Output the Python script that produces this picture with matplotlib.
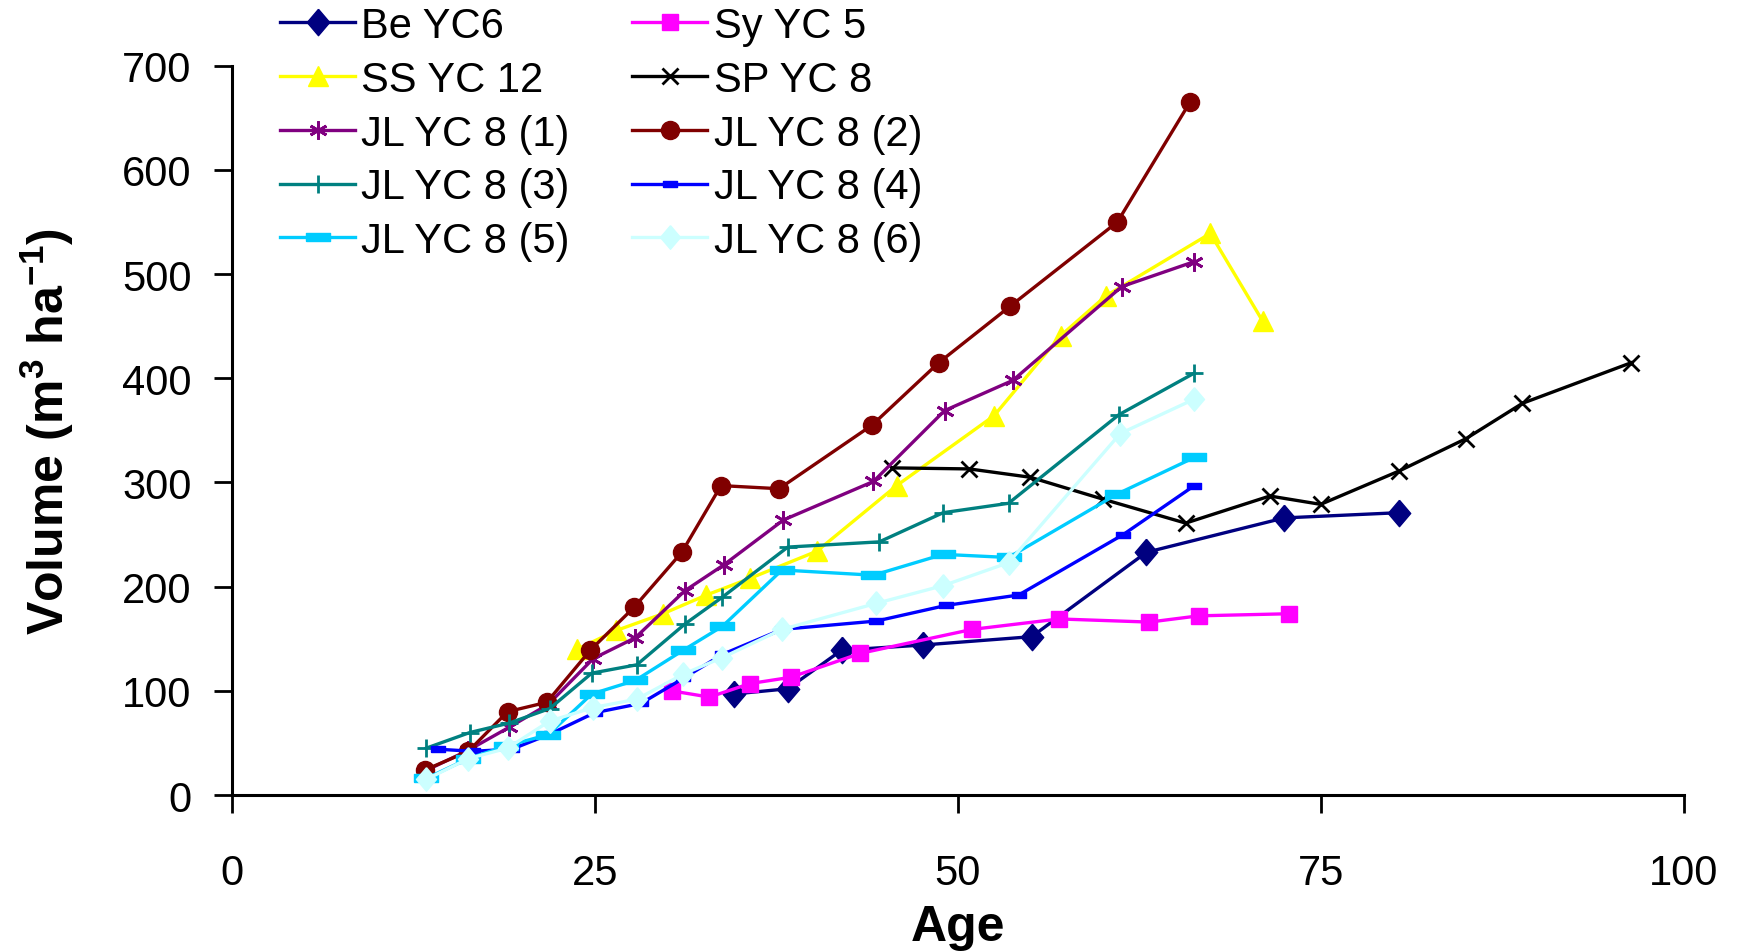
import matplotlib
matplotlib.use("Agg")
import matplotlib.pyplot as plt

plt.rcParams['font.family'] = ['Liberation Sans', 'DejaVu Sans']
plt.rcParams['mathtext.fontset'] = 'custom'
plt.rcParams['mathtext.rm'] = 'Liberation Sans'
plt.rcParams['mathtext.bf'] = 'Liberation Sans:bold'

# Veriler
be_age = [34.6, 38.3, 42.0, 47.6, 55.1, 63.0, 72.5, 80.4]
be_vol = [97, 102, 139, 144, 152, 233, 266, 271]

sy_age = [30.3, 32.9, 35.7, 38.5, 43.3, 51.0, 57.0, 63.2, 66.6, 72.8]
sy_vol = [100, 94, 107, 113, 136, 159, 169, 166, 172, 174]

ss_age = [23.8, 26.5, 29.7, 32.7, 35.7, 40.3, 45.8, 52.5, 57.1, 60.2, 67.4, 71.0]
ss_vol = [140, 158, 174, 192, 208, 234, 297, 364, 441, 479, 539, 455]

sp_age = [45.5, 50.8, 55.0, 60.0, 65.7, 71.5, 75.0, 80.4, 85.0, 88.9, 96.4]
sp_vol = [314, 313, 305, 284, 261, 287, 279, 311, 342, 376, 415]

jl1_age = [13.3, 16.3, 19.1, 21.8, 24.9, 27.8, 31.2, 33.9, 38.0, 44.2, 49.1, 53.8, 61.3, 66.3]
jl1_vol = [23, 43, 65, 87, 131, 151, 196, 221, 264, 301, 369, 398, 488, 512]

jl2_age = [13.3, 16.3, 19.0, 21.7, 24.7, 27.7, 31.0, 33.7, 37.7, 44.1, 48.7, 53.6, 61.0, 66.0]
jl2_vol = [24, 42, 80, 89, 139, 180, 233, 297, 294, 355, 415, 469, 550, 665]

jl3_age = [13.4, 16.4, 19.1, 21.9, 24.8, 27.9, 31.2, 33.8, 38.3, 44.6, 49.0, 53.5, 61.1, 66.3]
jl3_vol = [45, 60, 69, 83, 117, 125, 164, 190, 238, 243, 271, 280, 365, 405]

jl4_age = [14.2, 16.6, 19.3, 22.0, 25.0, 28.2, 31.1, 33.8, 37.9, 44.4, 49.2, 54.2, 61.4, 66.3]
jl4_vol = [44, 42, 44, 59, 79, 88, 112, 135, 159, 167, 182, 192, 250, 297]

jl5_age = [13.4, 16.3, 18.9, 21.8, 24.8, 27.8, 31.1, 33.8, 37.9, 44.2, 49.0, 53.5, 61.0, 66.3]
jl5_vol = [16, 35, 47, 58, 97, 110, 139, 162, 216, 211, 231, 228, 289, 324]

jl6_age = [13.4, 16.3, 19.0, 21.9, 24.9, 27.9, 31.1, 33.8, 37.9, 44.4, 49.0, 53.5, 61.2, 66.3]
jl6_vol = [15, 35, 45, 71, 84, 92, 116, 132, 159, 184, 201, 223, 347, 380]

# Excel tarzı işaretçiler
dash_small = [(-1, -0.5), (1, -0.5), (1, 0.5), (-1, 0.5), (-1, -0.5)]
dash_wide = [(-1.5, -0.5), (1.5, -0.5), (1.5, 0.5), (-1.5, 0.5), (-1.5, -0.5)]
diamond = [(0, 1), (0.85, 0), (0, -1), (-0.85, 0), (0, 1)]

fig = plt.figure(figsize=(17.46, 9.53), dpi=100)
ax = fig.add_axes([0.1327, 0.1647, 0.8316, 0.7653])

lw = 2.4
ax.plot(be_age, be_vol, color='#000080', marker=diamond, ms=19, lw=lw, label='Be YC6')
ax.plot(sy_age, sy_vol, color='#FF00FF', marker='s', ms=12, lw=lw, label='Sy YC 5')
ax.plot(ss_age, ss_vol, color='#FFFF00', marker='^', ms=15, lw=lw, label='SS YC 12')
ax.plot(sp_age, sp_vol, color='black', marker='x', ms=11, mew=2, lw=lw, label='SP YC 8')
ax.plot(jl1_age, jl1_vol, color='#800080', marker=(6, 2, 0), ms=13, mew=2, lw=lw, label='JL YC 8 (1)')
ax.plot(jl2_age, jl2_vol, color='#800000', marker='o', ms=13, lw=lw, label='JL YC 8 (2)')
ax.plot(jl3_age, jl3_vol, color='#008080', marker='+', ms=13, mew=2, lw=lw, label='JL YC 8 (3)')
ax.plot(jl4_age, jl4_vol, color='#0000FF', marker=dash_small, ms=10, lw=lw, label='JL YC 8 (4)')
ax.plot(jl5_age, jl5_vol, color='#00CCFF', marker=dash_wide, ms=17, lw=lw, label='JL YC 8 (5)')
ax.plot(jl6_age, jl6_vol, color='#CCFFFF', marker=diamond, ms=17, lw=lw, label='JL YC 8 (6)')

ax.set_xlim(0, 100)
ax.set_ylim(0, 700)
ax.set_xticks([0, 25, 50, 75, 100])
ax.set_yticks(range(0, 701, 100))
for s in ['top', 'right']:
    ax.spines[s].set_visible(False)
for s in ['left', 'bottom']:
    ax.spines[s].set_linewidth(2.2)
ax.tick_params(axis='x', direction='out', length=13, width=2, labelsize=30, pad=29)
ax.tick_params(axis='y', direction='out', length=13, width=2, labelsize=30, pad=16)

ax.set_xlabel('Age', fontsize=36, fontweight='bold', labelpad=8)
ax.set_ylabel(r'Volume (m$^{\mathbf{3}}$ ha$^{\mathbf{-1}}$)', fontsize=36,
              fontweight='bold', labelpad=33)

# Lejant satır satır dolsun diye sırayı değiştir
handles, labels = ax.get_legend_handles_labels()
order = [0, 2, 4, 6, 8, 1, 3, 5, 7, 9]
fig.legend([handles[i] for i in order], [labels[i] for i in order],
           loc='upper left', bbox_to_anchor=(0.158, 0.997), ncol=2, frameon=False,
           fontsize=30, handlelength=1.8, handletextpad=0.15, columnspacing=1.5,
           labelspacing=0.33, borderpad=0.1, borderaxespad=0)

plt.savefig('out.png', dpi=100)
